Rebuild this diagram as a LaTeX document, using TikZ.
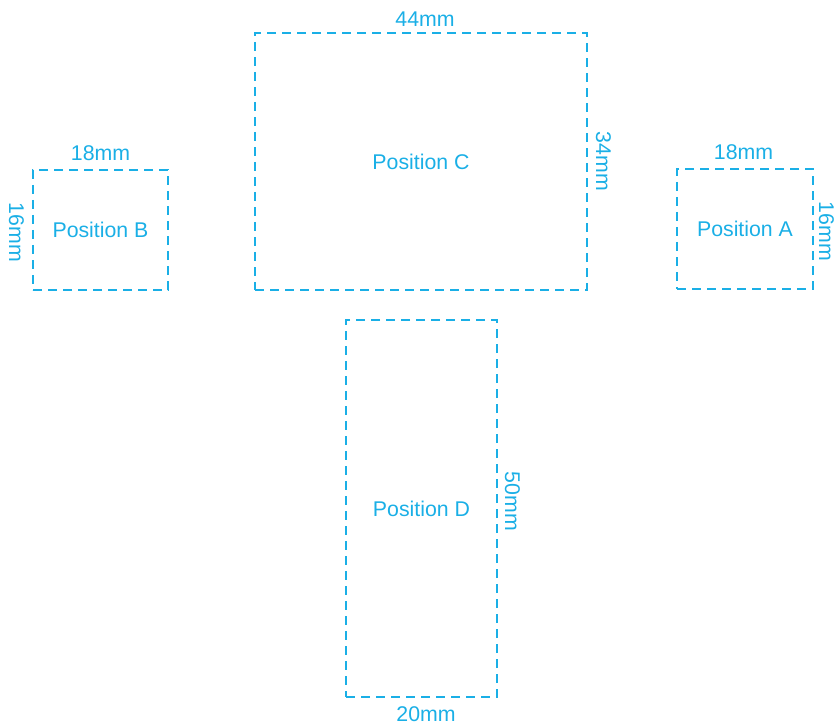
\documentclass[tikz,border=0pt]{standalone}
\usepackage{fontspec}
\setmainfont{Liberation Sans}
\usetikzlibrary{positioning}
\definecolor{posblue}{HTML}{1AAFE6}

\begin{document}
\begin{tikzpicture}[x=1pt,y=-1pt,
	every node/.style={text=posblue,font=\fontsize{21.3}{25}\selectfont},
	zone/.style={draw=posblue,line width=1.1pt,dash pattern=on 9pt off 6pt,inner sep=0pt},
	dim/.style={inner sep=0pt}]
	\useasboundingbox (0,0) rectangle (837,727);
	% the four positions
	\node[zone,minimum width=135pt,minimum height=120pt] (posB) at (100.5,230) {Position B};
	\node[zone,minimum width=332pt,minimum height=257pt] (posC) at (421,161.5) {Position C};
	\node[zone,minimum width=136pt,minimum height=120pt] (posA) at (745,229) {Position A};
	\node[zone,minimum width=151pt,minimum height=377pt] (posD) at (421.5,508.5) {Position D};
	% sizes
	\node[dim,above=9pt of posB] (dimBw) {18mm};
	\node[dim,rotate=-90] (dimBh) at ([xshift=-16pt,yshift=-2.5pt]posB.west) {16mm};
	\node[dim,above=6pt of posC,xshift=4pt] (dimCw) {44mm};
	\node[dim,rotate=-90] (dimCh) at ([xshift=16pt]posC.east) {34mm};
	\node[dim,above=9pt of posA,xshift=-1.5pt] (dimAw) {18mm};
	\node[dim,rotate=-90] (dimAh) at ([xshift=13pt,yshift=-2.5pt]posA.east) {16mm};
	\node[dim,below=9pt of posD,xshift=4.5pt] (dimDw) {20mm};
	\node[dim,rotate=-90] (dimDh) at ([xshift=15pt,yshift=7pt]posD.east) {50mm};
\end{tikzpicture}
\end{document}
